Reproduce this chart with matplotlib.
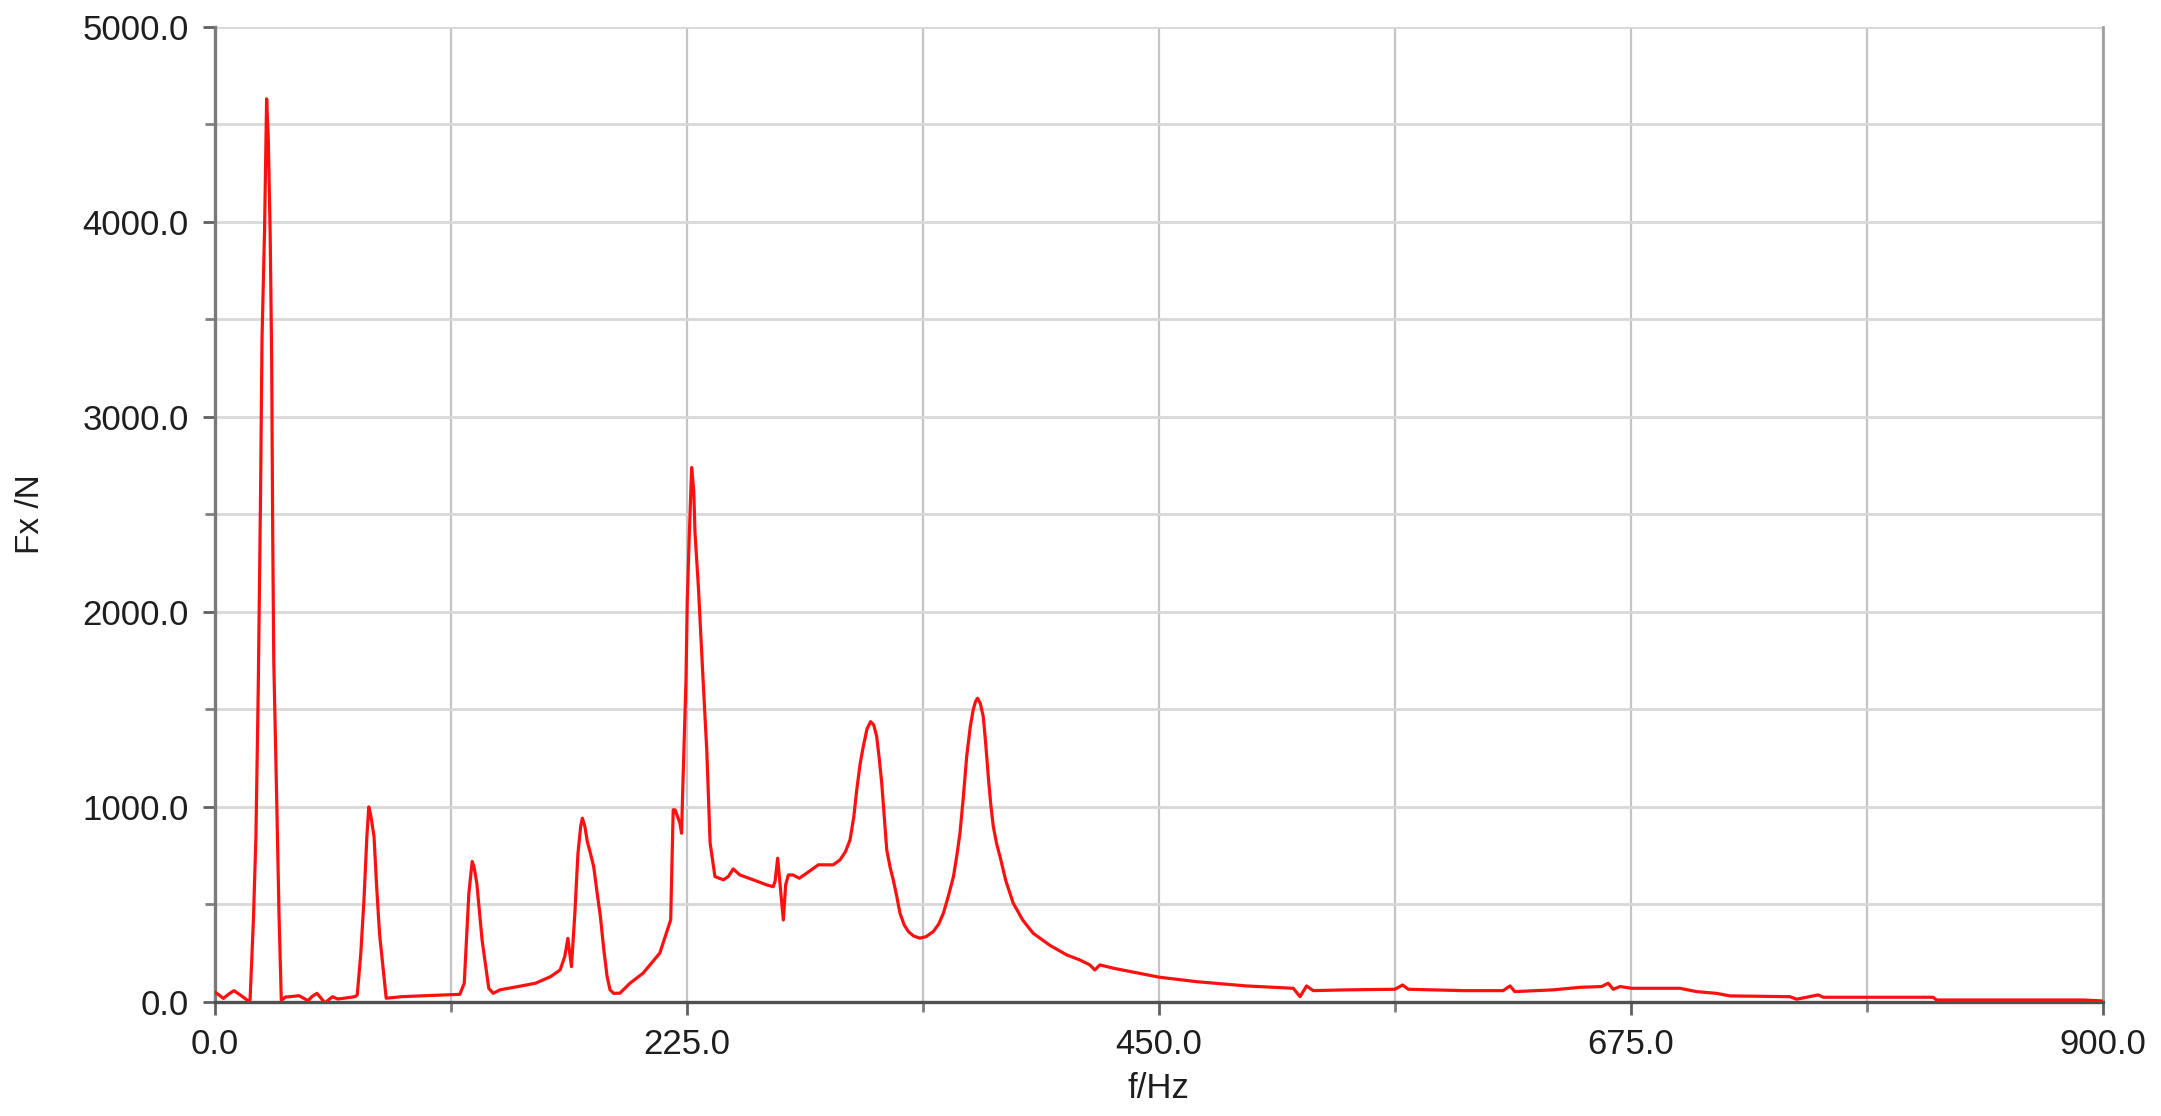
import matplotlib
matplotlib.use('Agg')
import matplotlib.pyplot as plt
from matplotlib.ticker import MultipleLocator, FormatStrFormatter

# spectrum
freq_hz = [0, 2, 4, 6.5, 9, 12, 15.5, 16.7, 18.3, 19.5, 20.6, 21.7, 22.4, 23.6, 24.6, 25.4,
           26.3, 27.0, 27.5, 28.0, 29.4, 30.5, 31.6, 33.5, 35.8, 40, 44.3, 46.5, 48.6, 50.5,
           52.4, 56, 58.5, 61.4, 66.7, 67.8, 69.5, 71, 72.4, 73.3, 74.2, 75.8, 77, 78.4, 81.6,
           89, 100, 116.7, 118.8, 121, 122.6, 123.5, 124.8, 127.3, 130.5, 132.6, 135.8, 145,
           152.8, 160, 164.5, 166.7, 168.2, 169.9, 171.5, 173, 174.3, 175.1, 176.3, 177.5, 179,
           180.5, 182, 183.7, 185.3, 186.9, 188.3, 190, 193, 197.8, 204, 212, 217.2, 218.4,
           219.3, 221.6, 222.4, 222.9, 224, 224.5, 225.1, 226, 227.2, 228.2, 228.8, 230.4,
           231.5, 232.7, 234.4, 236, 238.3, 242.3, 244.7, 247, 250.2, 256.6, 263, 266.1, 267,
           268.2, 269.3, 270.9, 272, 273.3, 275.6, 278.5, 282, 287.6, 294.7, 297.9, 300.5,
           302.7, 304.5, 305.9, 307.5, 309, 310.8, 312.5, 314, 315.4, 316.6, 317.8, 319, 320.2,
           321.8, 323.3, 325, 326.5, 328.5, 330.5, 333, 336, 339, 342.4, 345, 347.2, 349.5, 352,
           353.6, 355.1, 356.7, 358.3, 360, 361.4, 362.5, 363.5, 364.8, 366.2, 367.4, 368.6,
           369.8, 371, 372.6, 374.2, 377, 380.5, 385, 390, 398, 406, 412.3, 417, 419.4, 421.8,
           428.2, 450, 467.9, 491.7, 514, 517.2, 520.3, 523.5, 539.4, 562.4, 566.1, 568.8, 595,
           614, 617.3, 619.6, 637.9, 650.6, 661, 664.1, 666.5, 669.7, 675.3, 698.3, 706.2,
           715.8, 722.1, 750.7, 753.9, 764.2, 766.6, 819, 820.6, 890.5, 900]
fx_n = [50, 35, 18, 40, 58, 36, 8, 10, 420, 850, 1600, 2600, 3400, 3950, 4630, 4420,
        3930, 3300, 2400, 1750, 1040, 450, 8, 25, 27, 32, 7, 30, 44, 20,
        -5, 27, 15, 19, 27, 36, 250, 523, 850, 1000, 960, 848, 600, 352, 19,
        27, 32, 39, 96, 557, 720, 690, 608, 318, 70, 44, 62, 80,
        96, 130, 164, 232, 326, 181, 450, 760, 900, 942, 900, 820, 760,
        694, 570, 438, 270, 130, 62, 44, 45, 96, 147, 250, 420, 985,
        985, 917, 865, 1070, 1463, 1651, 2050, 2369, 2740, 2620, 2405, 2130,
        1892, 1640, 1292, 815, 643, 626, 643, 682, 651, 626, 600, 591, 620,
        737, 609, 420, 600, 651, 651, 634, 660, 703, 703, 728, 770,
        831, 950, 1087, 1220, 1309, 1400, 1437, 1420, 1361, 1250, 1122, 950, 780,
        690, 626, 540, 455, 395, 361, 338, 327, 335, 361, 400, 455, 540, 643,
        750, 865, 1050, 1258, 1410, 1497, 1540, 1557, 1530, 1463, 1320, 1155,
        1010, 899, 810, 745, 620, 506, 420, 352, 290, 241, 215, 190, 164, 190,
        173, 127, 104, 82, 70, 27, 82, 58, 62, 65, 87, 65, 58,
        58, 82, 53, 62, 75, 79, 96, 65, 79, 70, 70, 53,
        44, 31, 27, 14, 36, 24, 24, 10, 10, 5]

plt.rcParams['font.family'] = ['Liberation Sans', 'DejaVu Sans']

fig = plt.figure(figsize=(21.61, 11.16), dpi=100)
ax = fig.add_axes([0.0995, 0.1022, 0.8737, 0.8739])

ax.plot(freq_hz, fx_n, color='#ff1010', lw=2.3, zorder=3)

ax.set_xlim(0, 900)
ax.set_ylim(0, 5000)
ax.xaxis.set_major_locator(MultipleLocator(225))
ax.xaxis.set_minor_locator(MultipleLocator(112.5))
ax.yaxis.set_major_locator(MultipleLocator(1000))
ax.yaxis.set_minor_locator(MultipleLocator(500))
ax.xaxis.set_major_formatter(FormatStrFormatter('%.1f'))
ax.yaxis.set_major_formatter(FormatStrFormatter('%.1f'))

ax.grid(True, which='both', axis='x', color='#c4c4c4', lw=1.6, zorder=0)
ax.grid(True, which='both', axis='y', color='#d8d8d8', lw=2.0, zorder=0)
ax.set_axisbelow(True)

for s in ['top', 'right']:
    ax.spines[s].set_visible(False)
ax.spines['left'].set_color('#7a7a7a')
ax.spines['left'].set_linewidth(2.4)
ax.spines['bottom'].set_color('#505050')
ax.spines['bottom'].set_linewidth(2.4)

# right edge line at 900 like the reference
ax.axvline(900, color='#a0a0a0', lw=2.0, zorder=1, clip_on=False)

ax.tick_params(axis='both', which='major', direction='out', length=9, width=2,
               color='#606060', labelsize=25, labelcolor='#1e1e1e')
ax.tick_params(axis='both', which='minor', direction='out', length=7, width=2,
               color='#808080')
ax.tick_params(axis='y', which='major', pad=10)
ax.tick_params(axis='x', which='major', pad=10)

fig.text(0.5359, 0.025, 'f/Hz', ha='center', va='center', fontsize=25, color='#1e1e1e')
fig.text(0.0139, 0.539, 'Fx /N', ha='center', va='center', rotation=90, fontsize=24,
         color='#1e1e1e')

fig.savefig('out.png', dpi=100, facecolor='white')
